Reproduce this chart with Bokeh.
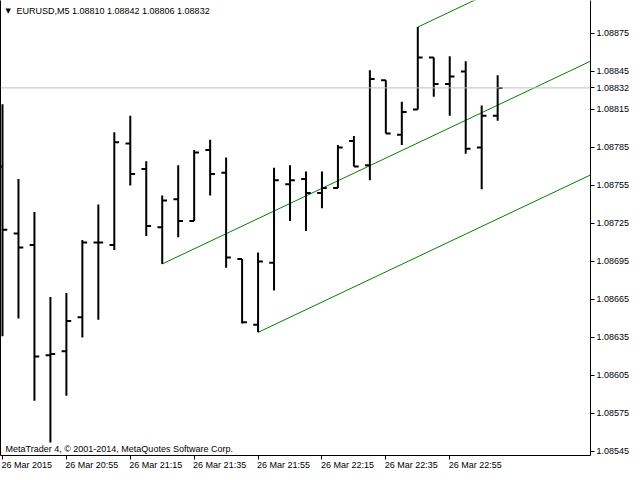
from bokeh.plotting import figure
from bokeh.models import LinearAxis, FixedTicker, Range1d, Span, Label
from bokeh.embed import file_html
from bokeh.resources import INLINE

# ---------------- data ----------------
symbol = "EURUSD,M5"
copyright_text = "MetaTrader 4, \u00a9 2001-2014, MetaQuotes Software Corp."
opens = [1.08770, 1.08717, 1.08708, 1.08621, 1.08624, 1.08651, 1.08710, 1.08708,
         1.08788, 1.08768, 1.08722, 1.08744, 1.08727, 1.08783, 1.08765, 1.08697,
         1.08645, 1.08694, 1.08756, 1.08760, 1.08749, 1.08753, 1.08790, 1.08771,
         1.08838, 1.08795, 1.08815, 1.08856, 1.08835, 1.08845, 1.08785, 1.08810]
highs = [1.08819, 1.08760, 1.08734, 1.08667, 1.08670, 1.08712, 1.08740, 1.08797,
         1.08810, 1.08774, 1.08747, 1.08771, 1.08783, 1.08791, 1.08777, 1.08697,
         1.08702, 1.08769, 1.08771, 1.08766, 1.08766, 1.08787, 1.08794, 1.08846,
         1.08838, 1.08821, 1.08880, 1.08856, 1.08857, 1.08853, 1.08818, 1.08842]
lows = [1.08636, 1.08650, 1.08585, 1.08552, 1.08589, 1.08635, 1.08649, 1.08704,
        1.08755, 1.08715, 1.08693, 1.08714, 1.08727, 1.08747, 1.08690, 1.08646,
        1.08639, 1.08672, 1.08727, 1.08719, 1.08737, 1.08753, 1.08770, 1.08759,
        1.08796, 1.08787, 1.08815, 1.08825, 1.08810, 1.08780, 1.08752, 1.08806]
closes = [1.08720, 1.08706, 1.08620, 1.08622, 1.08648, 1.08710, 1.08710, 1.08789,
          1.08764, 1.08723, 1.08743, 1.08727, 1.08781, 1.08764, 1.08698, 1.08647,
          1.08695, 1.08759, 1.08759, 1.08749, 1.08753, 1.08785, 1.08770, 1.08839,
          1.08796, 1.08813, 1.08856, 1.08835, 1.08841, 1.08784, 1.08810, 1.08832]

time_tick_bars = [0, 4, 8, 12, 16, 20, 24, 28]
time_tick_labels = ["26 Mar 2015", "26 Mar 20:55", "26 Mar 21:15", "26 Mar 21:35",
                    "26 Mar 21:55", "26 Mar 22:15", "26 Mar 22:35", "26 Mar 22:55"]
price_ticks = [1.08545, 1.08575, 1.08605, 1.08635, 1.08665, 1.08695,
               1.08725, 1.08755, 1.08785, 1.08815, 1.08845, 1.08875]

# channel: three parallel lines, each starting at a pivot bar
channel_bars = [10, 16, 26]
channel_pivot = [lows[10], lows[16], highs[26]]
channel_slope = 0.0000597  # price per bar

# ---------------- layout ----------------
FIG_W, FIG_H = 632, 472
BORDER_R, BORDER_B = 40, 17
LEFT_AXIS = 1
frame_w = FIG_W - BORDER_R - LEFT_AXIS
frame_h = FIG_H - BORDER_B
px_per_bar = 16.0
x_start = -(3 - LEFT_AXIS) / px_per_bar
x_end = x_start + frame_w / px_per_bar
y_start, y_end = 1.0854177, 1.0890099

FONT = "Liberation Sans"
FS = "9px"

p = figure(width=FIG_W, height=FIG_H, output_backend="svg", toolbar_location=None,
           x_range=Range1d(x_start, x_end), y_range=Range1d(y_start, y_end),
           x_axis_location="below", y_axis_location="right",
           min_border_left=0, min_border_top=0, min_border_right=BORDER_R,
           min_border_bottom=BORDER_B)
p.outline_line_color = None
p.grid.visible = False
p.background_fill_color = "white"
p.border_fill_color = "white"

# bottom axis: tick marks only (labels not drawn)
xa = p.xaxis[0]
xa.ticker = FixedTicker(ticks=time_tick_bars)
xa.major_tick_out = 4
xa.major_tick_in = 0
xa.minor_tick_line_color = None
xa.major_label_text_font_size = "1px"
xa.major_label_text_color = None
xa.major_label_standoff = 0
xa.axis_line_color = "black"
xa.major_tick_line_color = "black"

# second bottom axis: time labels, shifted so each starts at its tick
label_shift_px = [24.3] + [25.5] * (len(time_tick_bars) - 1)
label_pos = [round(b + s / px_per_bar, 4) for b, s in zip(time_tick_bars, label_shift_px)]
xa2 = LinearAxis(ticker=FixedTicker(ticks=label_pos),
                 major_label_overrides={pos: t for pos, t in zip(label_pos, time_tick_labels)},
                 major_tick_out=0, major_tick_in=0, minor_tick_line_color=None,
                 axis_line_color=None, major_tick_line_color=None,
                 major_label_standoff=0, major_label_text_font=FONT,
                 major_label_text_font_size=FS, major_label_text_color="black")
p.add_layout(xa2, "below")

# right axis: prices (+ current price)
ya = p.yaxis[0]
ticks_all = price_ticks + [closes[-1]]
ya.ticker = FixedTicker(ticks=ticks_all)
ya.major_label_overrides = {v: f"{v:.5f}" for v in ticks_all}
ya.major_tick_out = 4
ya.major_tick_in = 0
ya.minor_tick_line_color = None
ya.major_label_standoff = 2
ya.major_label_text_font = FONT
ya.major_label_text_font_size = FS
ya.major_label_text_color = "black"
ya.axis_line_color = "black"

# left border
la = LinearAxis(ticker=FixedTicker(ticks=[]), major_label_text_font_size="1px",
                major_label_text_color=None,
                major_label_standoff=0, major_tick_out=0, major_tick_in=0,
                minor_tick_line_color=None, axis_line_color="black")
p.add_layout(la, "left")

# current price line
p.add_layout(Span(location=closes[-1], dimension="width", line_color="#c0c0c0", line_width=1))

# channel lines
for b, pv in zip(channel_bars, channel_pivot):
    xe = x_end + 2
    p.line([b, xe], [pv, pv + channel_slope * (xe - b)], line_color="#008000", line_width=1)

# OHLC bars
idx = list(range(len(closes)))
TL = 0.3
p.segment(x0=idx, y0=lows, x1=idx, y1=highs, line_color="black", line_width=2)
p.segment(x0=[i - TL for i in idx], y0=opens, x1=idx, y1=opens, line_color="black", line_width=2)
p.segment(x0=idx, y0=closes, x1=[i + TL for i in idx], y1=closes, line_color="black", line_width=2)

# header
p.add_layout(Label(x=5, y=frame_h - 10, x_units="screen", y_units="screen", text="\u25bc",
                   text_align="left", text_baseline="middle", text_font="DejaVu Sans",
                   text_font_size="7px", text_color="black"))
p.add_layout(Label(x=16, y=frame_h - 10, x_units="screen", y_units="screen",
                   text=f"{symbol}  {opens[-1]:.5f} {highs[-1]:.5f} {lows[-1]:.5f} {closes[-1]:.5f}",
                   text_align="left", text_baseline="middle", text_font=FONT,
                   text_font_size=FS, text_color="black"))
# copyright
p.add_layout(Label(x=5, y=7, x_units="screen", y_units="screen", text=copyright_text,
                   text_align="left", text_baseline="middle", text_font=FONT,
                   text_font_size=FS, text_color="black"))

open("out.html", "w").write(file_html(p, INLINE))
